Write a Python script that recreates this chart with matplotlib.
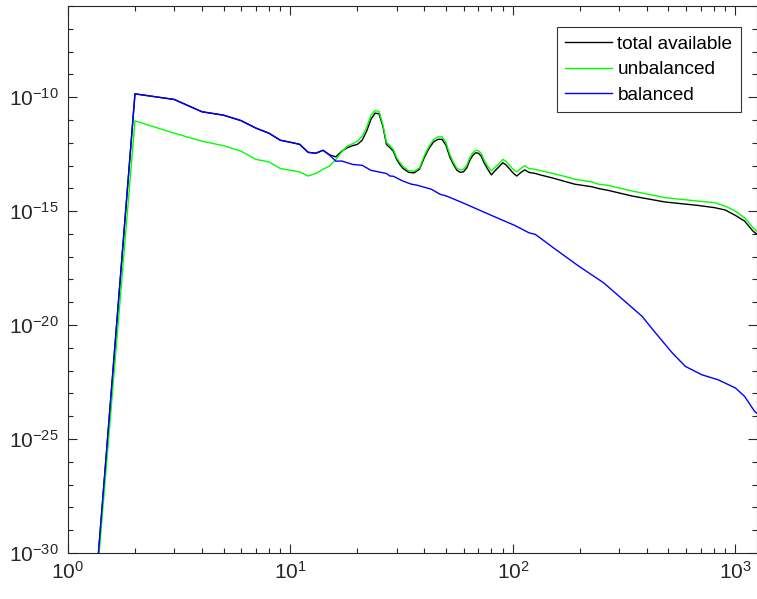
import numpy as np
import matplotlib
matplotlib.use("Agg")
import matplotlib.pyplot as plt
from matplotlib.ticker import LogLocator, LogFormatterMathtext, NullFormatter

plt.rcParams['font.family'] = ['Liberation Sans', 'DejaVu Sans']
plt.rcParams['mathtext.default'] = 'regular'

# Wavenumber and log10 of the energy spectrum for each component
k_total = [1, 2, 3, 4, 5, 6, 7, 8, 9, 10, 11, 12, 13, 14, 15,
           16, 17, 18, 19, 20, 21, 22, 23, 24, 25, 26, 27, 28, 29, 30, 31, 32,
           34, 36, 38, 40, 42, 44, 46, 48, 50, 52, 54, 56, 58, 60, 62, 64, 66,
           68, 70, 72, 74, 77, 80, 83, 86, 90, 93, 96, 100, 104, 108, 113, 118,
           125, 135, 150, 170, 190, 226, 243, 268, 344, 483, 680, 808, 900,
           1000, 1100, 1200, 1250]
log_total = [-46.8, -9.855, -10.10, -10.64, -10.79, -11.03, -11.36, -11.58,
             -11.89, -11.98, -12.07, -12.42, -12.46, -12.33, -12.53,
             -12.62, -12.37, -12.22, -12.13, -12.07, -11.89, -11.49, -10.97,
             -10.70, -10.73, -11.27, -12.07, -12.22, -12.37, -12.73, -12.95,
             -13.12, -13.30, -13.32, -13.16, -12.64, -12.24, -11.96, -11.85,
             -11.85, -12.11, -12.62, -12.95, -13.21, -13.30, -13.27, -13.10,
             -12.77, -12.55, -12.44, -12.46, -12.59, -12.86, -13.16, -13.41,
             -13.23, -13.08, -12.88, -12.97, -13.12, -13.32, -13.46, -13.32,
             -13.19, -13.30, -13.34, -13.43, -13.54, -13.69, -13.82, -13.93,
             -14.01, -14.09, -14.34, -14.60, -14.75, -14.85, -14.95, -15.19,
             -15.44, -15.88, -16.02]

k_unbal = [1, 2, 3, 4, 5, 6, 7, 8, 9, 10, 11, 12, 13, 14, 15,
           16, 17, 18, 19, 20, 21, 22, 23, 24, 25, 26, 27, 28, 29, 30, 31, 32,
           34, 36, 38, 40, 42, 44, 46, 48, 50, 52, 54, 56, 58, 60, 62, 64, 66,
           68, 70, 72, 74, 77, 80, 83, 86, 90, 93, 96, 100, 104, 108, 113, 118,
           125, 135, 150, 170, 190, 226, 243, 268, 344, 483, 680, 808, 900,
           1000, 1100, 1200, 1250]
log_unbal = [-46.5, -11.04, -11.58, -11.93, -12.13, -12.37, -12.73, -12.84,
             -13.13, -13.21, -13.28, -13.46, -13.35, -13.16, -13.02,
             -12.73, -12.40, -12.15, -12.04, -11.93, -11.71, -11.32, -10.79,
             -10.59, -10.62, -11.19, -11.98, -12.13, -12.29, -12.65, -12.86,
             -13.03, -13.23, -13.25, -13.10, -12.55, -12.15, -11.85, -11.74,
             -11.74, -11.99, -12.51, -12.86, -13.12, -13.19, -13.16, -12.99,
             -12.64, -12.44, -12.33, -12.35, -12.46, -12.73, -13.03, -13.23,
             -13.08, -12.95, -12.73, -12.81, -12.97, -13.16, -13.28, -13.14,
             -13.01, -13.13, -13.16, -13.24, -13.34, -13.47, -13.60, -13.72,
             -13.82, -13.87, -14.12, -14.41, -14.56, -14.63, -14.78, -15.00,
             -15.29, -15.73, -15.89]

k_bal = [1, 2, 3, 4, 5, 6, 7, 8, 9, 10, 11, 12, 13, 14, 15,
         16, 17, 19, 21, 23, 27, 28, 29, 32, 35, 37, 43, 47, 50, 59, 78, 102,
         118, 126, 145, 152, 198, 256, 331, 380, 437, 520, 595, 706, 836,
         1000, 1100, 1220, 1250]
log_bal = [-46.8, -9.855, -10.10, -10.64, -10.79, -11.03, -11.36, -11.58,
           -11.89, -11.98, -12.07, -12.42, -12.46, -12.33, -12.55,
           -12.81, -12.80, -12.95, -12.99, -13.21, -13.35, -13.46, -13.47,
           -13.68, -13.82, -13.86, -14.04, -14.26, -14.33, -14.62, -15.14,
           -15.63, -15.95, -16.02, -16.46, -16.61, -17.42, -18.15, -19.10,
           -19.61, -20.34, -21.22, -21.81, -22.18, -22.40, -22.76, -23.13,
           -23.79, -23.87]

series_labels = ['total available', 'unbalanced', 'balanced']
series_colors = ['black', (0.0, 1.0, 0.0), (0.0, 0.0, 1.0)]

fig = plt.figure(figsize=(7.57, 5.99), dpi=100)
W, H = 757, 599
ax = fig.add_axes([68 / W, (H - 553) / H, 689 / W, (553 - 6) / H])

for kk, lv, lab, col in zip([k_total, k_unbal, k_bal],
                            [log_total, log_unbal, log_bal],
                            series_labels, series_colors):
    ax.loglog(kk, 10.0 ** np.asarray(lv), color=col, lw=1.0, label=lab)

ax.set_xlim(1, 1250)
ax.set_ylim(1e-30, 1e-6)

axis_col = '#262626'
ax.xaxis.set_major_locator(LogLocator(base=10, numticks=10))
ax.xaxis.set_minor_locator(LogLocator(base=10, subs=np.arange(2, 10), numticks=20))
ax.xaxis.set_major_formatter(LogFormatterMathtext())
ax.xaxis.set_minor_formatter(NullFormatter())
ax.set_yticks([1e-30, 1e-25, 1e-20, 1e-15, 1e-10])
ax.yaxis.set_major_formatter(LogFormatterMathtext())
ax.yaxis.set_minor_locator(LogLocator(base=10, subs=[1.0], numticks=40))
ax.yaxis.set_minor_formatter(NullFormatter())

ax.tick_params(which='both', direction='in', top=True, right=True,
               colors=axis_col, labelsize=15, width=0.8)
ax.tick_params(which='major', length=6.5)
ax.tick_params(which='minor', length=3.5)
ax.tick_params(axis='x', which='major', pad=6)
ax.tick_params(axis='y', which='major', pad=7)
for s in ax.spines.values():
    s.set_color(axis_col)
    s.set_linewidth(0.8)

leg = ax.legend(loc='upper right', bbox_to_anchor=((741 - 68) / 689, (553 - 27) / 547),
                fontsize=13.7, frameon=True, fancybox=False, edgecolor='black',
                handlelength=2.45, handletextpad=0.3, borderpad=0.45,
                labelspacing=0.42, borderaxespad=0.0)
leg.get_frame().set_linewidth(0.8)

fig.savefig('out.png', dpi=100)
